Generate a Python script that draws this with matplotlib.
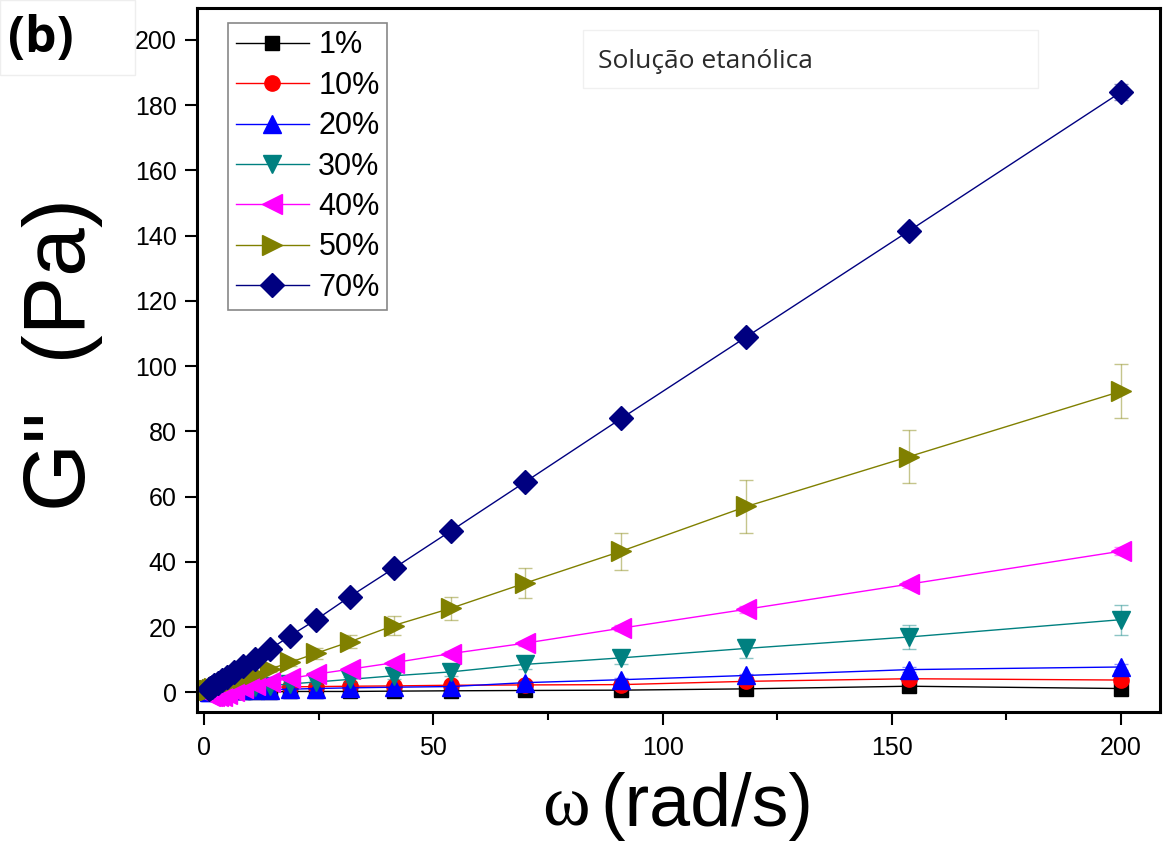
#!/usr/bin/env python
# -*- coding: utf-8 -*-

import matplotlib
matplotlib.use('Agg')
import matplotlib.pyplot as plt
from matplotlib.patches import Rectangle
from matplotlib.ticker import MultipleLocator

omega = [1.0, 1.3, 1.7, 2.2, 2.9, 3.8, 5.0, 6.5, 8.5, 11.0, 14.4,
         18.7, 24.4, 31.7, 41.3, 53.8, 70.0, 91.0, 118.3, 153.8, 200.0]

labels = ['1%', '10%', '20%', '30%', '40%', '50%', '70%']

g1 = [0.1, 0.1, 0.1, 0.1, 0.1, 0.1, 0.1, 0.2, 0.2, 0.2, 0.2,
      0.3, 0.3, 0.3, 0.4, 0.5, 0.6, 0.7, 1.1, 1.9, 1.2]
g10 = [0.6, 0.7, 0.8, 0.9, 1.0, 1.1, 1.2, 1.3, 1.4, 1.5, 1.6,
       1.7, 1.8, 1.9, 2.0, 2.2, 2.3, 2.4, 3.4, 4.2, 3.8]
g20 = [0.2, 0.2, 0.3, 0.3, 0.4, 0.4, 0.5, 0.6, 0.7, 0.8, 0.9,
       1.0, 1.2, 1.4, 1.6, 1.8, 3.0, 3.9, 5.2, 7.0, 7.8]
g30 = [0.3, 0.4, 0.5, 0.6, 0.7, 0.8, 1.0, 1.2, 1.4, 1.7, 2.1,
       2.6, 3.2, 4.0, 5.1, 6.3, 8.6, 10.6, 13.5, 17.0, 22.3]
g40 = [-0.8, -1.0, -1.1, -1.2, -1.2, -1.0, -0.5, 0.5, 1.4, 2.3, 3.2,
       4.3, 5.6, 7.1, 9.1, 11.9, 15.1, 19.7, 25.5, 33.2, 43.3]
g50 = [0.7, 0.9, 1.1, 1.4, 1.8, 2.2, 2.8, 3.5, 4.4, 5.6, 7.2,
       9.2, 12.0, 15.5, 20.5, 25.8, 33.5, 43.3, 57.0, 72.3, 92.3]
g70 = [1.2, 1.5, 1.8, 2.3, 2.9, 3.7, 4.8, 6.2, 8.0, 10.3, 13.3,
       17.3, 22.3, 29.3, 38.0, 49.5, 64.5, 84.0, 109.0, 141.5, 184.0]

e1 = [0.1] * 17 + [0.2, 0.3, 0.4, 0.4]
e10 = [0.2] * 17 + [0.3, 0.4, 0.5, 0.5]
e20 = [0.2] * 15 + [0.3, 0.4, 0.5, 0.6, 0.8, 1.0]
e30 = [0.1, 0.1, 0.1, 0.2, 0.2, 0.2, 0.2, 0.3, 0.3, 0.4, 0.4,
       0.5, 0.7, 0.8, 1.0, 1.2, 1.5, 2.0, 2.9, 3.6, 4.6]
e40 = [0.2, 0.2, 0.2, 0.2, 0.2, 0.2, 0.2, 0.3, 0.3, 0.3, 0.4,
       0.4, 0.5, 0.5, 0.6, 0.7, 0.8, 0.9, 1.0, 1.1, 1.2]
e50 = [0.1, 0.2, 0.2, 0.2, 0.3, 0.3, 0.4, 0.5, 0.6, 0.8, 1.0,
       1.2, 1.6, 2.0, 3.0, 3.6, 4.6, 5.7, 8.2, 8.0, 8.3]
e70 = [0.1, 0.1, 0.1, 0.1, 0.1, 0.2, 0.2, 0.2, 0.3, 0.3, 0.4,
       0.4, 0.5, 0.6, 0.7, 0.8, 0.9, 1.0, 1.2, 1.5, 2.5]

values = [g1, g10, g20, g30, g40, g50, g70]
errors = [e1, e10, e20, e30, e40, e50, e70]
colors = ['#000000', '#ff0000', '#0000ff', '#008080', '#ff00ff', '#808000', '#000080']
markers = ['s', 'o', '^', 'v', '<', '>', 'D']
msizes = [10, 11, 13, 13, 14, 14, 12]


def main():
    plt.rcParams['font.family'] = ['Liberation Sans', 'DejaVu Sans']
    fig = plt.figure(figsize=(11.68, 8.44), dpi=100)
    ax = fig.add_axes([0.169, 0.156, 0.824, 0.8345])

    for y, err, c, m, ms, lab in zip(values, errors, colors, markers, msizes, labels):
        ax.errorbar(omega, y, yerr=err, fmt='none', ecolor=c, alpha=0.45,
                    elinewidth=1.0, capsize=5, capthick=1.0)
        ax.plot(omega, y, color=c, lw=1.0, marker=m, ms=ms, mec=c, mfc=c,
                label=lab)

    ax.set_xlim(-1.5, 208.5)
    ax.set_ylim(-6.1, 209.8)
    ax.xaxis.set_major_locator(MultipleLocator(50))
    ax.xaxis.set_minor_locator(MultipleLocator(25))
    ax.yaxis.set_major_locator(MultipleLocator(20))
    ax.tick_params(axis='both', which='major', direction='out', length=9,
                   width=1.5, labelsize=18, pad=6)
    ax.tick_params(axis='x', which='minor', direction='out', length=6, width=1.5)
    ax.tick_params(axis='x', which='major', pad=8)
    for s in ax.spines.values():
        s.set_linewidth(2.2)

    ax.set_ylabel('G"  (Pa)', fontsize=63)
    ax.yaxis.set_label_coords(-0.098, 0.508)

    fig.text(590 / 1168, 1 - 826 / 844, 'ω', fontsize=52, ha='right',
             va='baseline', family=['Liberation Serif', 'DejaVu Serif'])
    fig.text(600 / 1168, 1 - 826 / 844, '(rad/s)', fontsize=53, ha='left',
             va='baseline')

    leg = ax.legend(loc='upper left', bbox_to_anchor=(0.032, 0.979),
                    borderaxespad=0, fontsize=22, labelspacing=0.34,
                    handlelength=2.4, handletextpad=0.3, borderpad=0.25,
                    fancybox=False, framealpha=1)
    leg.get_frame().set_edgecolor('#888888')
    leg.get_frame().set_linewidth(1.2)

    fig.text(8 / 1168, 1 - 14 / 844, '(b)', fontsize=36, fontweight='bold',
             ha='left', va='top', family=['Open Sans', 'DejaVu Sans'])
    fig.patches.append(Rectangle((0, 1 - 75 / 844), 135 / 1168, 75 / 844,
                                 transform=fig.transFigure, fill=False,
                                 ec='#eeeeee', lw=1))

    fig.text(598 / 1168, 1 - 68 / 844, 'Solução etanólica', fontsize=19,
             ha='left', va='baseline', color='#2a2a2a',
             family=['Open Sans', 'DejaVu Sans'])
    fig.patches.append(Rectangle((583 / 1168, 1 - 88 / 844), 455 / 1168, 58 / 844,
                                 transform=fig.transFigure, fill=False,
                                 ec='#f0f0f0', lw=1))

    fig.savefig('out.png', dpi=100)


if __name__ == '__main__':
    main()
